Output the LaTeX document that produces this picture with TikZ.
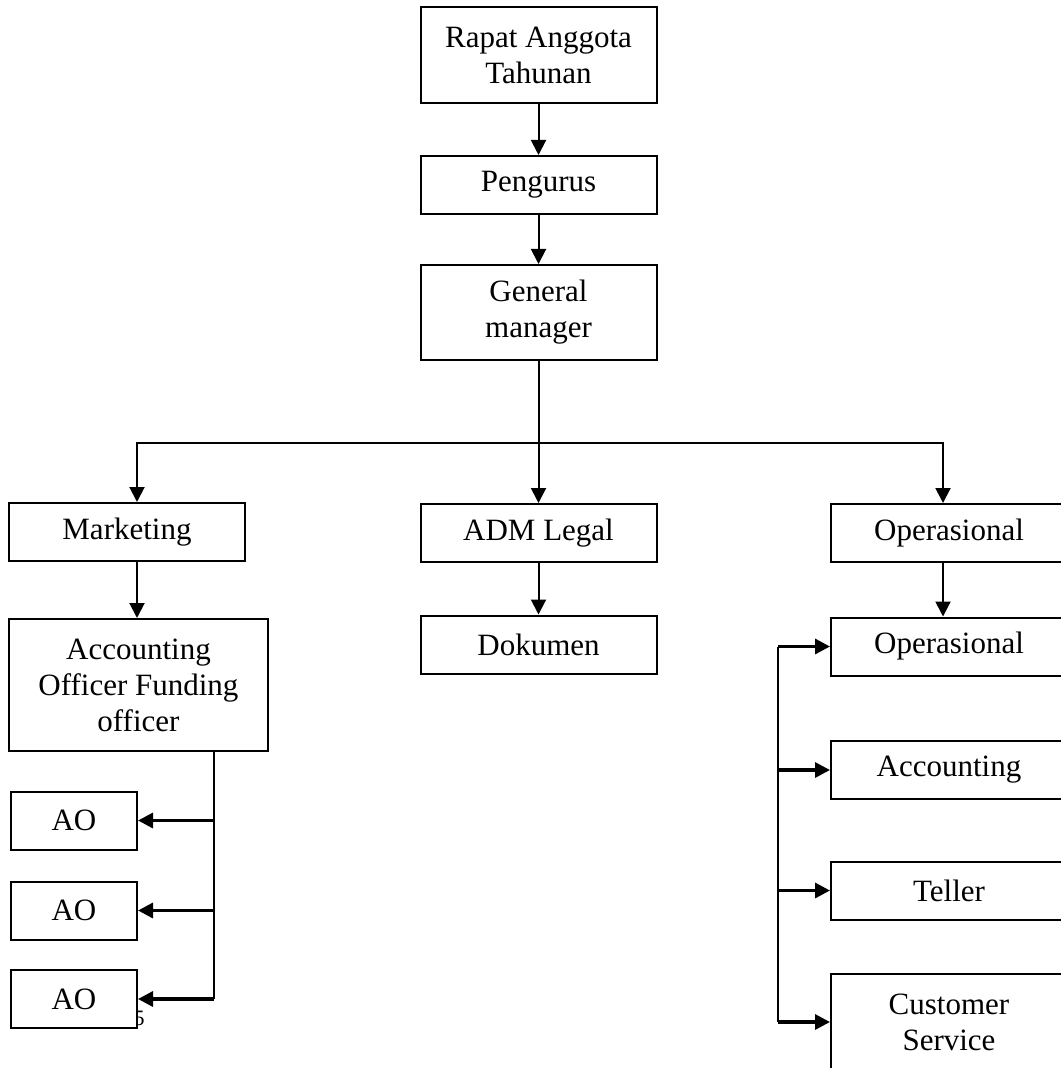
\documentclass[tikz,border=0pt]{standalone}
\usepackage{fontspec}
\setmainfont{Liberation Serif}
\usetikzlibrary{arrows.meta}

\begin{document}
\begin{tikzpicture}[x=0.5pt,y=-0.5pt,
    kotak/.style={draw, line width=1pt, fill=white, minimum width=118pt, minimum height=29pt,
      inner sep=0pt, align=center, font=\fontsize{15.5}{18}\selectfont},
    panah/.style={-{Triangle[length=7.5pt,width=7.5pt]}, line width=1pt}]
            \useasboundingbox (0,0) rectangle (1060,1068);
            % atas
            \node[kotak, minimum height=48pt] (rat) at (538.5,55) {Rapat Anggota\\Tahunan};
            \node[kotak] (peng) at (538.5,185) {Pengurus};
            \node[kotak, minimum height=47.5pt] (gm) at (538.5,312.5) {General\\manager};
            % bagian
            \node[kotak] (mkt) at (127,532) {Marketing};
            \node[kotak] (adm) at (538.5,533) {ADM Legal};
            \node[kotak] (ops) at (949,533) {Operasional};
            \node[kotak, minimum width=129.5pt, minimum height=66pt] (acc) at (138.5,685) {Accounting\\Officer Funding\\officer};
            \node[kotak] (dok) at (538.5,644.5) {Dokumen};
            \node[kotak] (ops2) at (949,646.5) {Operasional};
            \node[kotak] (acct) at (949,770) {Accounting};
            \node[kotak] (tell) at (949,890.5) {Teller};
            \node[kotak, minimum height=48pt] (cs) at (949,1022) {Customer\\Service};
            \node[inner sep=0pt, font=\fontsize{11}{13}\selectfont] (hal) at (139,1018) {5};
            \foreach \i/\y in {1/820.5, 2/910.5, 3/999}
                \node[kotak, minimum width=63pt] (ao\i) at (74,\y) {AO};
            % garis
            \draw[panah] (rat) -- (peng);
            \draw[panah] (peng) -- (gm);
            \draw[panah] (gm) -- (adm);
            \coordinate (cabang) at (538.5,443);
            \draw[panah] (cabang) -| ([xshift=5pt]mkt.north);
            \draw[panah] (cabang) -| ([xshift=-3pt]ops.north);
            \draw[panah] ([xshift=5pt]mkt.south) -- ([xshift=5pt]mkt.south |- acc.north);
            \draw[panah] (adm) -- (dok);
            \draw[panah] ([xshift=-3pt]ops.south) -- ([xshift=-3pt]ops.south |- ops2.north);
            % AO
            \coordinate (kiri) at (214,1001);
            \draw[line width=1pt] (kiri |- acc.south) -- (kiri |- ao3);
            \foreach \n in {ao1,ao2,ao3}
                \draw[panah, line width=1.6pt] (kiri |- \n) -- (\n.east);
            % operasional
            \coordinate (kanan) at (778,1027);
            \draw[line width=1pt] (kanan |- ops2) -- (kanan |- cs);
            \foreach \n in {ops2,acct,tell,cs}
                \draw[panah, line width=1.6pt] (kanan |- \n) -- (\n.west);
        \end{tikzpicture}
\end{document}
